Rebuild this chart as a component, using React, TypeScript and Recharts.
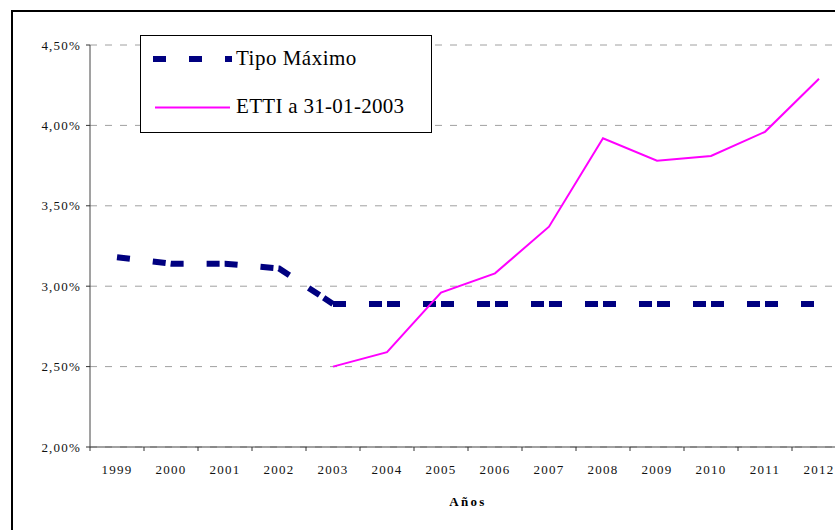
import React from "react";
import { LineChart, Line, XAxis, YAxis, CartesianGrid, Legend } from "recharts";

const years = ["1999", "2000", "2001", "2002", "2003", "2004", "2005", "2006", "2007", "2008", "2009", "2010", "2011", "2012"];
const tipoMaximo = [3.18, 3.14, 3.14, 3.11, 2.89, 2.89, 2.89, 2.89, 2.89, 2.89, 2.89, 2.89, 2.89, 2.89];
const etti = [null, null, null, null, 2.5, 2.59, 2.96, 3.08, 3.37, 3.92, 3.78, 3.81, 3.96, 4.29];
const yTicks = [2, 2.5, 3, 3.5, 4, 4.5];
const seriesNames = ["Tipo Máximo", "ETTI a 31-01-2003"];
const axisTitle = "Años";

const SPLIT = 4; // Tipo Máximo drawn in two pieces (dash pattern restarts, like the original)
const data = years.map((y, i) => ({
  year: y,
  tipoA: i <= SPLIT ? tipoMaximo[i] : null,
  tipoB: i >= SPLIT ? tipoMaximo[i] : null,
  etti: etti[i],
}));

const FONT = '"Liberation Serif", "Times New Roman", serif';
const NAVY = "#000080";
const MAGENTA = "#FF00FF";
const DASH = "13 23 13 5";

const fmtPct = (v: number) => v.toFixed(2).replace(".", ",") + "%";

const XTick = (props: any) => {
  const { x, y, payload, index, visibleTicksCount } = props;
  const half = payload && typeof payload.offset === "number" ? payload.offset : 27;
  const last = index === (visibleTicksCount ?? years.length) - 1;
  return (
    <g>
      <line x1={x - half} x2={x - half} y1={y} y2={y + 4} stroke="#333" strokeWidth={1} />
      {last && <line x1={x + half} x2={x + half} y1={y} y2={y + 4} stroke="#333" strokeWidth={1} />}
      <text x={x} y={y + 27} textAnchor="middle" fontFamily={FONT} fontSize={13} letterSpacing={1.2} fill="#111">
        {payload.value}
      </text>
    </g>
  );
};

const LegendBox = () => (
  <div
    style={{
      width: 290,
      height: 96,
      border: "1px solid #000",
      background: "#fff",
      position: "relative",
    }}
  >
    <svg width={290} height={96} style={{ position: "absolute", left: 0, top: 0 }}>
      <line x1={12} x2={91} y1={23} y2={23} stroke={NAVY} strokeWidth={6} strokeDasharray="13 23" />
      <text x={95} y={29} fontFamily={FONT} fontSize={21} letterSpacing={0.5} fill="#000">
        {seriesNames[0]}
      </text>
      <line x1={14} x2={89} y1={71.5} y2={71.5} stroke={MAGENTA} strokeWidth={2} />
      <text x={95} y={77} fontFamily={FONT} fontSize={21} letterSpacing={0.3} fill="#000">
        {seriesNames[1]}
      </text>
    </svg>
  </div>
);

export default function App() {
  return (
    <div
      style={{
        position: "fixed",
        left: 0,
        top: 0,
        width: 835,
        height: 530,
        overflow: "hidden",
        background: "#fff",
      }}
    >
      <div
        style={{
          position: "absolute",
          left: 11,
          top: 10,
          width: 900,
          height: 600,
          border: "2px solid #000",
          boxSizing: "border-box",
        }}
      />
      <div style={{ position: "absolute", left: 0, top: 0 }}>
        <LineChart
          width={870}
          height={560}
          data={data}
          margin={{ top: 45, right: 24, bottom: 53, left: 0 }}
        >
          <CartesianGrid vertical={false} stroke="#a0a0a0" strokeDasharray="7 8" />
          <XAxis
            dataKey="year"
            scale="band"
            height={60}
            axisLine={{ stroke: "#444" }}
            tickLine={false}
            tickSize={0}
            tickMargin={0}
            interval={0}
            tick={<XTick />}
            label={{
              value: axisTitle,
              position: "insideBottom",
              offset: 1,
              style: { fontFamily: FONT, fontSize: 13, fontWeight: "bold", letterSpacing: 2.3, fill: "#000" },
            }}
          />
          <YAxis
            width={90}
            domain={[2, 4.5]}
            ticks={yTicks}
            tickFormatter={fmtPct}
            axisLine={{ stroke: "#444" }}
            tickLine={{ stroke: "#333" }}
            tickSize={4}
            tickMargin={5}
            interval={0}
            tick={{ fontFamily: FONT, fontSize: 13, fill: "#111", letterSpacing: 1.2 }}
          />
          <Legend
            layout="vertical"
            align="center"
            verticalAlign="middle"
            content={<LegendBox />}
            wrapperStyle={{ left: 140, top: 35, width: 292, height: 98 }}
          />
          <Line
            dataKey="tipoA"
            type="linear"
            stroke={NAVY}
            strokeWidth={6}
            strokeDasharray={DASH}
            strokeLinecap="butt"
            dot={false}
            activeDot={false}
            legendType="none"
            isAnimationActive={false}
          />
          <Line
            dataKey="tipoB"
            type="linear"
            stroke={NAVY}
            strokeWidth={6}
            strokeDasharray={DASH}
            strokeLinecap="butt"
            dot={false}
            activeDot={false}
            legendType="none"
            isAnimationActive={false}
          />
          <Line
            dataKey="etti"
            type="linear"
            stroke={MAGENTA}
            strokeWidth={2}
            dot={false}
            activeDot={false}
            isAnimationActive={false}
          />
        </LineChart>
      </div>
    </div>
  );
}
